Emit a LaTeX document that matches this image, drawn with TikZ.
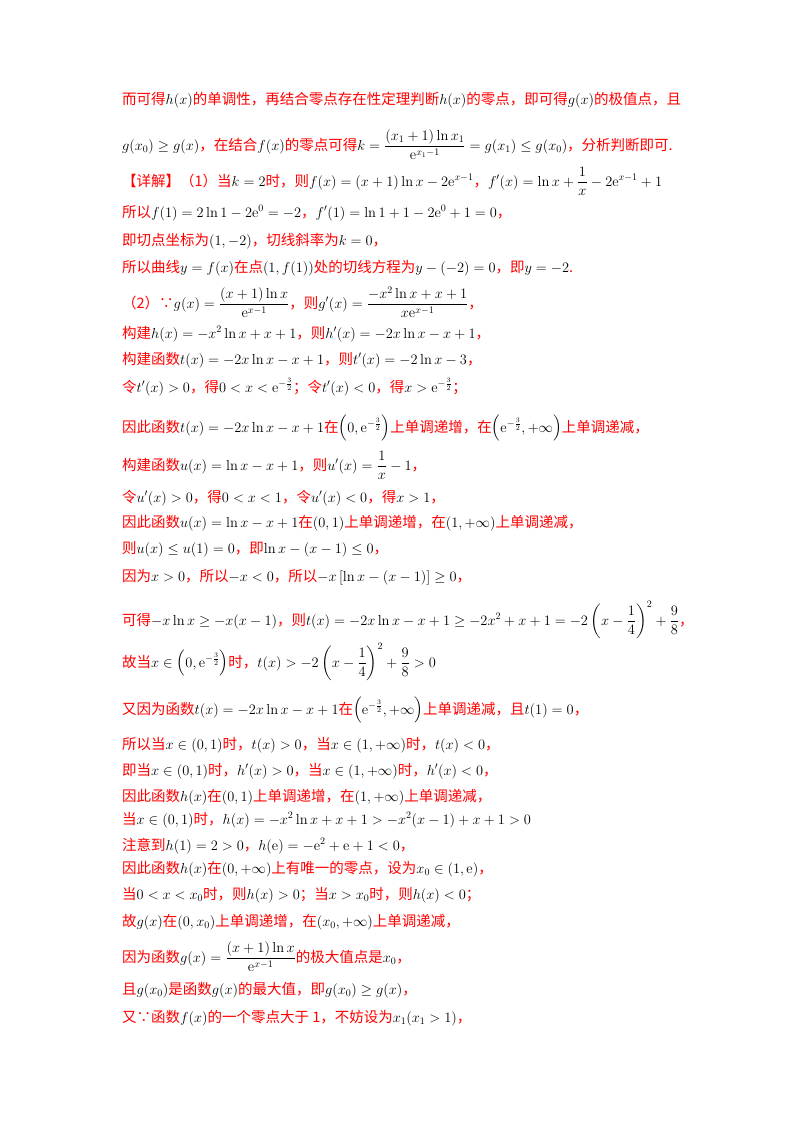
\documentclass[tikz,border=0pt]{standalone}
\usepackage{amsmath,amssymb}
\usepackage{fontspec}
\newfontfamily\cjk{Noto Sans CJK SC}
\newcommand\C[1]{{\color{red}\cjk #1}}
\newcommand\E{\mathrm{e}}
\begin{document}
\begin{tikzpicture}[x=1pt,y=1pt,ln/.style={anchor=base west,inner sep=0pt,font=\fontsize{14.5}{17}\selectfont}]
\useasboundingbox[fill=white] (0,0) rectangle (800,-1132);
\node[ln] (l1) at (122,-104) {\C{而可得}$h(x)$\C{的单调性，再结合零点存在性定理判断}$h(x)$\C{的零点，即可得}$g(x)$\C{的极值点，且}};
\node[ln] (l2) at (122,-150) {$g(x_0)\ge g(x)$\C{，在结合}$f(x)$\C{的零点可得}$k=\dfrac{(x_1+1)\ln x_1}{\E^{x_1-1}}=g(x_1)\le g(x_0)$\C{，分析判断即可.}};
\node[ln] (l3) at (122,-186) {\C{【详解】（1）当}$k=2$\C{时，则}$f(x)=(x+1)\ln x-2\E^{x-1}$\C{，}$f'(x)=\ln x+\dfrac1x-2\E^{x-1}+1$};
\node[ln] (l4) at (122,-217) {\C{所以}$f(1)=2\ln1-2\E^0=-2$\C{，}$f'(1)=\ln1+1-2\E^0+1=0$\C{，}};
\node[ln] (l5) at (122,-245) {\C{即切点坐标为}$(1,-2)$\C{，切线斜率为}$k=0$\C{，}};
\node[ln] (l6) at (122,-272) {\C{所以曲线}$y=f(x)$\C{在点}$(1,f(1))$\C{处的切线方程为}$y-(-2)=0$\C{，即}$y=-2$\C{.}};
\node[ln] (l7) at (122,-308) {\C{（2）∵}$g(x)=\dfrac{(x+1)\ln x}{\E^{x-1}}$\C{，则}$g'(x)=\dfrac{-x^2\ln x+x+1}{x\E^{x-1}}$\C{，}};
\node[ln] (l8) at (122,-338) {\C{构建}$h(x)=-x^2\ln x+x+1$\C{，则}$h'(x)=-2x\ln x-x+1$\C{，}};
\node[ln] (l9) at (122,-364) {\C{构建函数}$t(x)=-2x\ln x-x+1$\C{，则}$t'(x)=-2\ln x-3$\C{，}};
\node[ln] (l10) at (122,-392) {\C{令}$t'(x)>0$\C{，得}$0<x<\E^{-\frac32}$\C{；令}$t'(x)<0$\C{，得}$x>\E^{-\frac32}$\C{；}};
\node[ln] (l11) at (122,-432) {\C{因此函数}$t(x)=-2x\ln x-x+1$\C{在}$\left(0,\E^{-\frac32}\right)$\C{上单调递增，在}$\left(\E^{-\frac32},+\infty\right)$\C{上单调递减，}};
\node[ln] (l12) at (122,-470) {\C{构建函数}$u(x)=\ln x-x+1$\C{，则}$u'(x)=\dfrac1x-1$\C{，}};
\node[ln] (l13) at (122,-502) {\C{令}$u'(x)>0$\C{，得}$0<x<1$\C{，令}$u'(x)<0$\C{，得}$x>1$\C{，}};
\node[ln] (l14) at (122,-527) {\C{因此函数}$u(x)=\ln x-x+1$\C{在}$(0,1)$\C{上单调递增，在}$(1,+\infty)$\C{上单调递减，}};
\node[ln] (l15) at (122,-553) {\C{则}$u(x)\le u(1)=0$\C{，即}$\ln x-(x-1)\le0$\C{，}};
\node[ln] (l16) at (122,-581) {\C{因为}$x>0$\C{，所以}$-x<0$\C{，所以}$-x\left[\ln x-(x-1)\right]\ge0$\C{，}};
\node[ln] (l17) at (122,-625) {\C{可得}$-x\ln x\ge-x(x-1)$\C{，则}$t(x)=-2x\ln x-x+1\ge-2x^2+x+1=-2\left(x-\dfrac14\right)^2+\dfrac98$\C{，}};
\node[ln] (l18) at (122,-667) {\C{故当}$x\in\left(0,\E^{-\frac32}\right)$\C{时，}$t(x)>-2\left(x-\dfrac14\right)^2+\dfrac98>0$};
\node[ln] (l19) at (122,-714) {\C{又因为函数}$t(x)=-2x\ln x-x+1$\C{在}$\left(\E^{-\frac32},+\infty\right)$\C{上单调递减，且}$t(1)=0$\C{，}};
\node[ln] (l20) at (122,-749) {\C{所以当}$x\in(0,1)$\C{时，}$t(x)>0$\C{，当}$x\in(1,+\infty)$\C{时，}$t(x)<0$\C{，}};
\node[ln] (l21) at (122,-775) {\C{即当}$x\in(0,1)$\C{时，}$h'(x)>0$\C{，当}$x\in(1,+\infty)$\C{时，}$h'(x)<0$\C{，}};
\node[ln] (l22) at (122,-801) {\C{因此函数}$h(x)$\C{在}$(0,1)$\C{上单调递增，在}$(1,+\infty)$\C{上单调递减，}};
\node[ln] (l23) at (122,-824) {\C{当}$x\in(0,1)$\C{时，}$h(x)=-x^2\ln x+x+1>-x^2(x-1)+x+1>0$};
\node[ln] (l24) at (122,-850) {\C{注意到}$h(1)=2>0$\C{，}$h(\E)=-\E^2+\E+1<0$\C{，}};
\node[ln] (l25) at (122,-873) {\C{因此函数}$h(x)$\C{在}$(0,+\infty)$\C{上有唯一的零点，设为}$x_0\in(1,\E)$\C{，}};
\node[ln] (l26) at (122,-899) {\C{当}$0<x<x_0$\C{时，则}$h(x)>0$\C{；当}$x>x_0$\C{时，则}$h(x)<0$\C{；}};
\node[ln] (l27) at (122,-926) {\C{故}$g(x)$\C{在}$(0,x_0)$\C{上单调递增，在}$(x_0,+\infty)$\C{上单调递减，}};
\node[ln] (l28) at (122,-962) {\C{因为函数}$g(x)=\dfrac{(x+1)\ln x}{\E^{x-1}}$\C{的极大值点是}$x_0$\C{，}};
\node[ln] (l29) at (122,-994) {\C{且}$g(x_0)$\C{是函数}$g(x)$\C{的最大值，即}$g(x_0)\ge g(x)$\C{，}};
\node[ln] (l30) at (122,-1022) {\C{又∵函数}$f(x)$\C{的一个零点大于 1，不妨设为}$x_1(x_1>1)$\C{，}};
\end{tikzpicture}
\end{document}
